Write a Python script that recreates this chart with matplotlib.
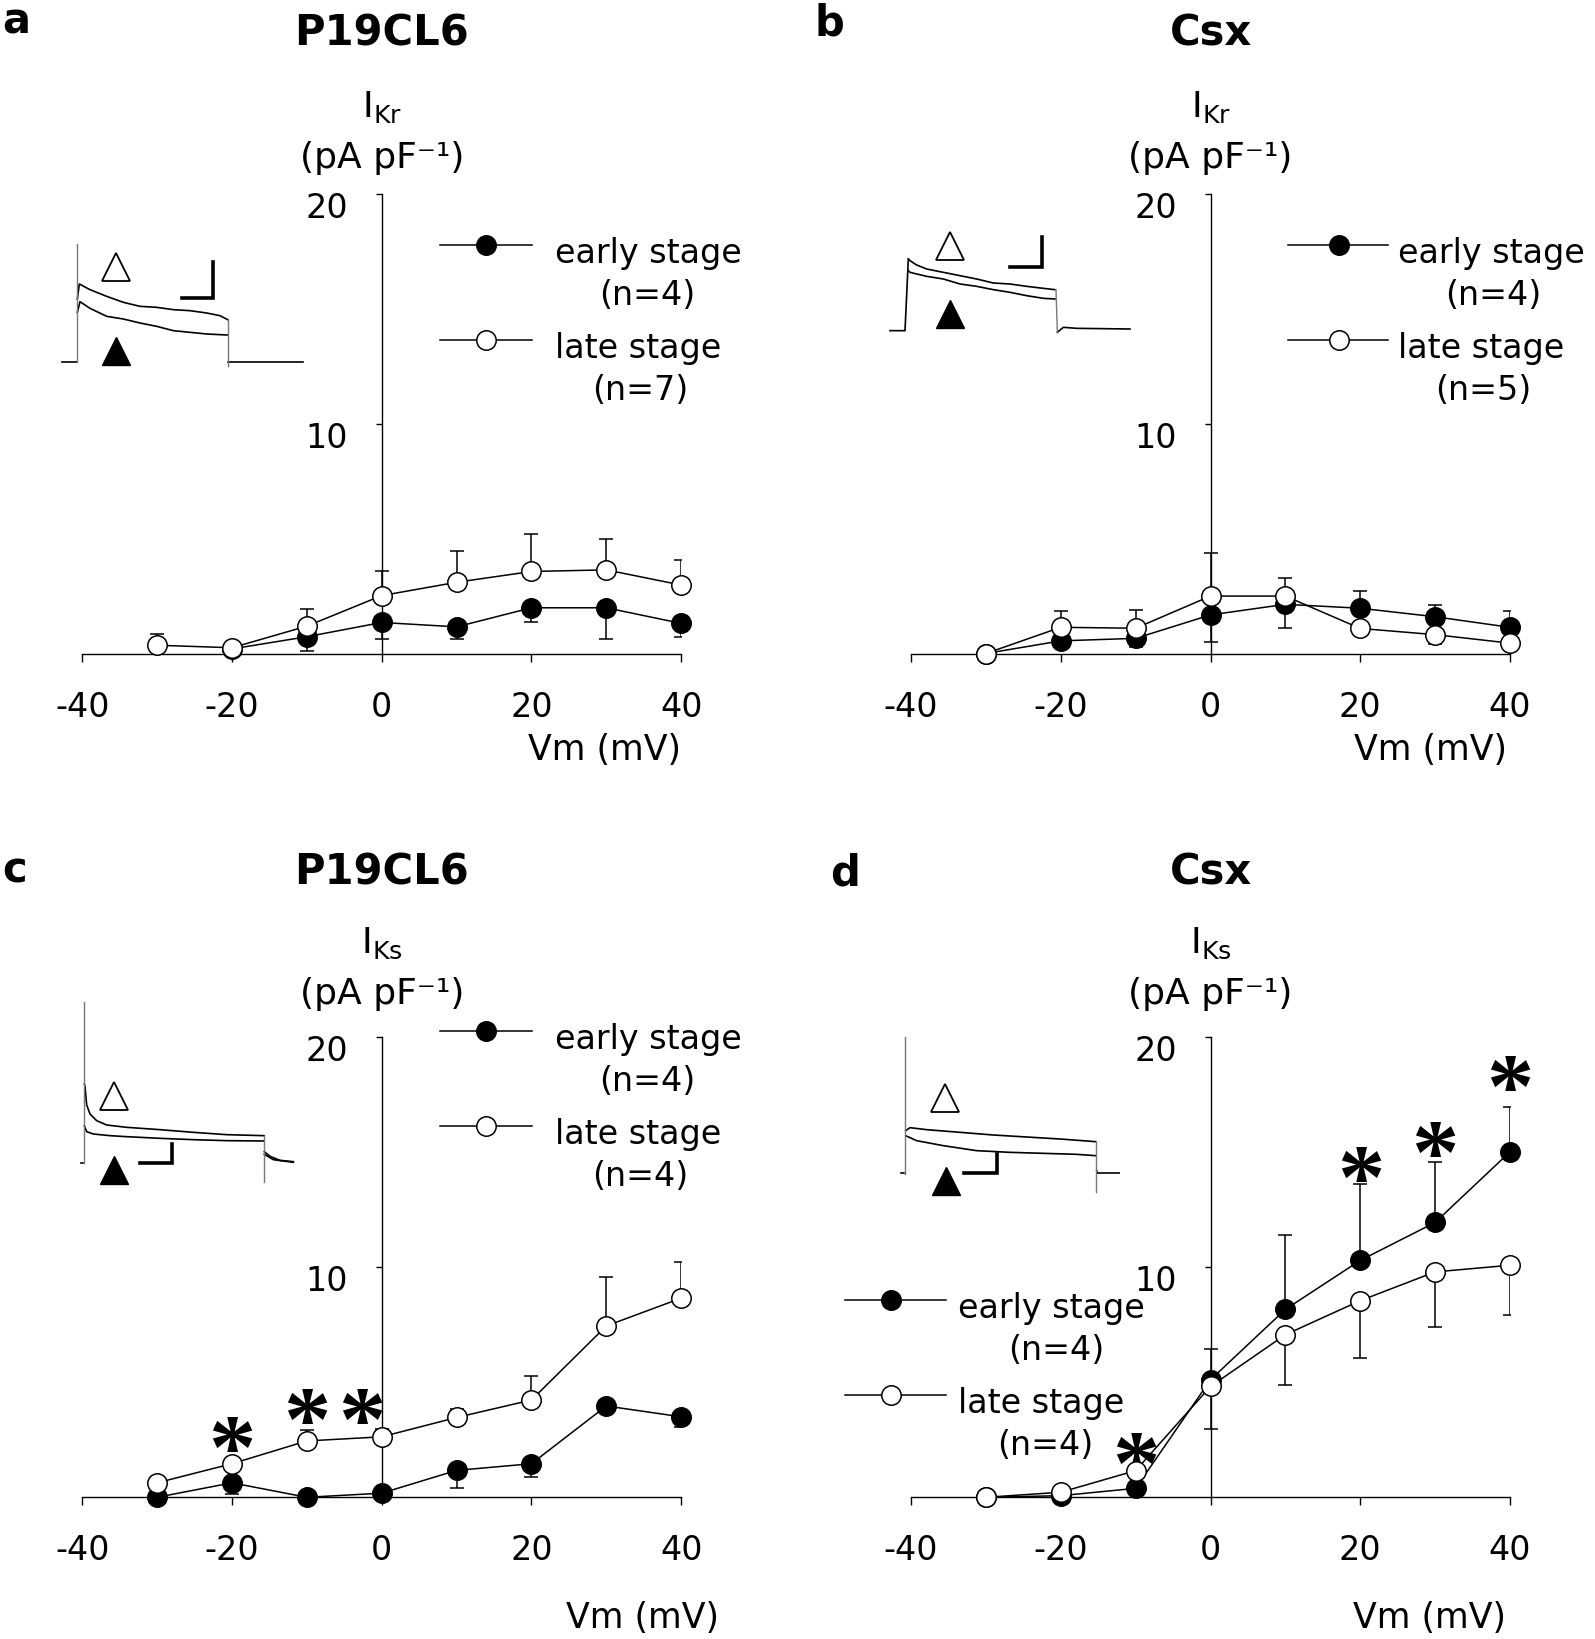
import matplotlib.pyplot as plt
from matplotlib.transforms import ScaledTranslation

plt.rcParams['font.family'] = ['DejaVu Sans']
plt.rcParams['mathtext.fontset'] = 'dejavusans'
plt.rcParams['axes.unicode_minus'] = False

W, H = 1595, 1640

# membrane potential steps (mV)
vm = [-30, -20, -10, 0, 10, 20, 30, 40]
vm_a_early = [-20, -10, 0, 10, 20, 30, 40]
xticks = [-40, -20, 0, 20, 40]
yticks = [10, 20]

# a: IKr, P19CL6
a_early = [0.2, 0.73, 1.35, 1.16, 1.99, 1.99, 1.31]
a_early_lo = [0, 0.61, 0.74, 0.53, 0.61, 1.38, 0.58]
a_early_hi = [0, 0, 0, 0, 0, 0, 0]
a_late = [0.36, 0.25, 1.19, 2.52, 3.1, 3.57, 3.64, 2.98]
a_late_lo = [0, 0, 0, 0, 0, 0, 0, 0]
a_late_hi = [0.51, 0, 0.75, 1.08, 1.34, 1.63, 1.36, 1.1]

# b: IKr, Csx
b_early = [0, 0.55, 0.66, 1.68, 2.14, 1.97, 1.6, 1.14]
b_early_lo = [0, 0, 0.37, 1.18, 1.04, 0, 0, 0]
b_early_hi = [0, 0, 0, 0, 0, 0.73, 0.51, 0.69]
b_late = [0, 1.14, 1.1, 2.5, 2.5, 1.09, 0.82, 0.45]
b_late_lo = [0, 0, 0, 0, 0, 0, 0.41, 0]
b_late_hi = [0, 0.72, 0.79, 1.87, 0.77, 0, 0, 0]

# c: IKs, P19CL6
c_early = [0, 0.63, 0, 0.18, 1.17, 1.46, 3.97, 3.5]
c_early_lo = [0, 0.48, 0, 0, 0.78, 0.58, 0, 0.43]
c_early_hi = [0, 0, 0, 0, 0, 0, 0, 0]
c_late = [0.63, 1.46, 2.45, 2.63, 3.47, 4.23, 7.45, 8.66]
c_late_lo = [0, 0, 0, 0, 0, 0, 0, 0]
c_late_hi = [0, 0, 0.47, 0.36, 0.35, 1.05, 2.15, 1.56]
c_star_vm = [-20, -10, -2.7]
c_star_y = [2.92, 4.16, 4.16]

# d: IKs, Csx
d_early = [0, 0.07, 0.39, 5.11, 8.17, 10.3, 11.95, 15.02]
d_early_lo = [0, 0, 0, 0, 0, 0, 0, 0]
d_early_hi = [0, 0, 0, 1.35, 3.25, 3.33, 2.61, 1.96]
d_late = [0, 0.22, 1.16, 4.82, 7.07, 8.55, 9.8, 10.09]
d_late_lo = [0, 0, 0, 1.87, 2.18, 2.5, 2.4, 2.15]
d_late_hi = [0, 0, 0, 0, 0, 0, 0, 0]
d_star_vm = [-10, 20, 30, 40]
d_star_y = [2.25, 14.66, 15.75, 18.62]

n_labels = {'a': ('(n=4)', '(n=7)'), 'b': ('(n=4)', '(n=5)'),
            'c': ('(n=4)', '(n=4)'), 'd': ('(n=4)', '(n=4)')}

# example current traces for the insets (arbitrary units)
ins_a = dict(
    pre=([65, 110], [430, 430]), on=([110, 110], [430, 75]),
    upper=([112, 118, 150, 200, 250, 300, 350, 400, 450, 500, 540, 563],
           [240, 195, 212, 232, 250, 262, 265, 272, 275, 282, 290, 302]),
    lower=([112, 120, 150, 200, 250, 300, 350, 400, 450, 500, 540, 563],
           [280, 248, 268, 292, 300, 312, 322, 335, 340, 345, 347, 348]),
    off=([565, 565], [300, 440]), post=([565, 790], [430, 430]),
    bar=([425, 520, 520], [237, 237, 128]),
    tri_open=(227, 145), tri_fill=(227, 395))
ins_b = dict(
    pre=([90, 135, 145], [395, 395, 180]), on=([135, 135], [395, 395]),
    upper=([145, 150, 170, 200, 250, 300, 350, 400, 450, 500, 550, 585],
           [180, 185, 198, 210, 220, 230, 240, 252, 255, 262, 268, 272]),
    lower=([145, 150, 170, 200, 250, 300, 350, 400, 450, 500, 550, 585],
           [215, 220, 225, 232, 240, 255, 262, 272, 280, 290, 298, 300]),
    off=([588, 592], [272, 400]), post=([592, 610, 650, 810], [400, 385, 388, 390]),
    bar=([450, 545, 545], [205, 205, 113]),
    tri_open=(270, 140), tri_fill=(270, 345))
ins_c = dict(
    pre=([62, 68], [492, 492]), on=([72, 72], [492, 10]),
    upper=([73, 75, 80, 90, 110, 140, 200, 300, 400, 500, 612],
           [255, 262, 318, 345, 365, 378, 385, 392, 400, 407, 410]),
    lower=([73, 80, 100, 150, 200, 300, 400, 500, 612],
           [380, 398, 405, 410, 413, 418, 422, 425, 426]),
    off=([613, 613], [410, 548]),
    post=([613, 630, 660, 700], [458, 472, 484, 488]),
    post2=([613, 640, 700], [466, 482, 490]),
    bar=([240, 337, 337], [492, 492, 435]),
    tri_open=(162, 292), tri_fill=(162, 512))
ins_d = dict(
    pre=([124, 131], [522, 522]), on=([135, 135], [525, 115]),
    upper=([137, 150, 200, 300, 400, 500, 600, 707],
           [395, 386, 392, 400, 408, 414, 420, 428]),
    lower=([137, 170, 250, 350, 450, 550, 650, 707],
           [410, 425, 440, 455, 460, 463, 466, 470]),
    off=([708, 708], [430, 578]), post=([710, 712, 780], [515, 522, 522]),
    bar=([313, 410, 410], [523, 523, 465]),
    tri_open=(255, 297), tri_fill=(258, 545))

fig = plt.figure(figsize=(W / 100, H / 100), dpi=100)


def px_rect(x0, y0, x1, y1):
    # pixel box (top-left origin) -> figure fraction rect
    return [x0 / W, 1 - y1 / H, (x1 - x0) / W, (y1 - y0) / H]


def ftext(x, y, s, **kw):
    return fig.text(x / W, 1 - y / H, s, **kw)


def draw_panel(box, early_x, early, e_lo, e_hi, late, l_lo, l_hi):
    ax = fig.add_axes(px_rect(*box))
    ax.errorbar(early_x, early, yerr=[e_lo, e_hi], fmt='none', ecolor='black',
                elinewidth=1.1, capsize=5, capthick=1.1, zorder=2)
    ax.errorbar(vm, late, yerr=[l_lo, l_hi], fmt='none', ecolor='black',
                elinewidth=1.1, capsize=5, capthick=1.1, zorder=2)
    ax.plot(early_x, early, '-o', color='black', lw=1.1, ms=14,
            mfc='black', mec='black', mew=1.1, clip_on=False, zorder=3)
    ax.plot(vm, late, '-o', color='black', lw=1.1, ms=14,
            mfc='white', mec='black', mew=1.1, clip_on=False, zorder=4)
    ax.set_xlim(-40, 40)
    ax.set_ylim(0, 20)
    for s in ['top', 'right']:
        ax.spines[s].set_visible(False)
    ax.spines['left'].set_position(('data', 0))
    for s in ['left', 'bottom']:
        ax.spines[s].set_linewidth(1.0)
    ax.set_xticks(xticks)
    ax.set_xticklabels([str(t) for t in xticks])
    ax.set_yticks(yticks)
    ax.set_yticklabels([str(t) for t in yticks])
    ax.tick_params(axis='x', direction='out', length=6, width=1.0,
                   labelsize=24, pad=20)
    ax.tick_params(axis='y', direction='out', length=4, width=1.0,
                   labelsize=24, pad=20)
    shift = ScaledTranslation(0, -0.10, fig.dpi_scale_trans)
    for lab in ax.get_yticklabels():
        lab.set_transform(lab.get_transform() + shift)
    ax.patch.set_visible(False)
    return ax


def legend(hx0, hx1, hm, y_early, tx, cx_e, cx_l, y_late, labels):
    for y, fc, lab in [(y_early, 'black', 'early stage'),
                       (y_late, 'white', 'late stage')]:
        fig.add_artist(plt.Line2D([hx0 / W, hx1 / W], [1 - y / H, 1 - y / H],
                                  color='black', lw=1.1))
        fig.add_artist(plt.Line2D([hm / W], [1 - y / H], marker='o', ms=14,
                                  mfc=fc, mec='black', mew=1.1))
        ftext(tx, y + 17, lab, fontsize=24, ha='left', va='baseline')
    ftext(cx_e, y_early + 59, labels[0], fontsize=24, ha='center', va='baseline')
    ftext(cx_l, y_late + 59, labels[1], fontsize=24, ha='center', va='baseline')


def stars(ax, xs, ys):
    for x, y in zip(xs, ys):
        ax.annotate('*', xy=(x, y), xytext=(0, -34), textcoords='offset points',
                    ha='center', va='baseline', fontsize=68, fontweight='bold',
                    family='Liberation Serif', annotation_clip=False)


def inset(box, tr):
    x0, y0, w, h = box
    ia = fig.add_axes(px_rect(x0, y0, x0 + w, y0 + h))
    ia.set_xlim(0, 3 * w)
    ia.set_ylim(3 * h, 0)
    ia.axis('off')
    for key in ['pre', 'upper', 'lower', 'post', 'post2']:
        if key in tr:
            ia.plot(*tr[key], color='black', lw=1.2)
    for key in ['on', 'off']:
        ia.plot(*tr[key], color='#777777', lw=1.0)
    ia.plot(*tr['bar'], color='black', lw=2.6, solid_joinstyle='miter')
    ia.plot(*tr['tri_open'], marker='^', ms=20, mfc='white', mec='black', mew=1.3)
    ia.plot(*tr['tri_fill'], marker='^', ms=20, mfc='black', mec='black')


ax_a = draw_panel((82.2, 195, 681.2, 654.5), vm_a_early, a_early, a_early_lo,
                  a_early_hi, a_late, a_late_lo, a_late_hi)
ax_b = draw_panel((911, 195, 1510, 654.5), vm, b_early, b_early_lo,
                  b_early_hi, b_late, b_late_lo, b_late_hi)
ax_c = draw_panel((82.2, 1038.3, 681.2, 1498.3), vm, c_early, c_early_lo,
                  c_early_hi, c_late, c_late_lo, c_late_hi)
ax_d = draw_panel((911, 1038.3, 1510, 1498.3), vm, d_early, d_early_lo,
                  d_early_hi, d_late, d_late_lo, d_late_hi)

stars(ax_c, c_star_vm, c_star_y)
stars(ax_d, d_star_vm, d_star_y)

inset((40, 220, 280, 160), ins_a)
inset((860, 200, 300, 160), ins_b)
inset((60, 1000, 260, 200), ins_c)
inset((860, 1000, 260, 200), ins_d)

# legends
legend(440, 532, 486, 246, 555, 647, 640, 341, n_labels['a'])
legend(1288, 1388, 1339, 246, 1398, 1493, 1483, 341, n_labels['b'])
legend(440, 532, 486, 1032, 555, 647, 640, 1127, n_labels['c'])
legend(845, 946, 891, 1301, 958, 1056, 1045, 1396, n_labels['d'])

# titles, panel letters, axis labels
for x, y, s in [(381.7, 45, 'P19CL6'), (1210.5, 45, 'Csx'),
                (381.7, 885, 'P19CL6'), (1210.5, 885, 'Csx')]:
    ftext(x, y, s, fontsize=30, fontweight='bold', ha='center', va='baseline')
for x, y, s in [(2, 33, 'a'), (815, 35, 'b'), (2, 883, 'c'), (830, 886, 'd')]:
    ftext(x, y, s, fontsize=30, fontweight='bold', ha='left', va='baseline')
for x, y, sub in [(381.7, 117, 'Kr'), (1210.5, 117, 'Kr'),
                  (381.7, 953, 'Ks'), (1210.5, 953, 'Ks')]:
    ftext(x, y, r'I$_{\mathrm{' + sub + '}}$', fontsize=26, ha='center', va='baseline')
    ftext(x, y + 51, '(pA pF\u207b\u00b9)', fontsize=26, ha='center', va='baseline')
for x, y in [(681, 760), (1507, 760), (719, 1628), (1506, 1628)]:
    ftext(x, y, 'Vm (mV)', fontsize=25, ha='right', va='baseline')

fig.savefig('out.png', dpi=100)
